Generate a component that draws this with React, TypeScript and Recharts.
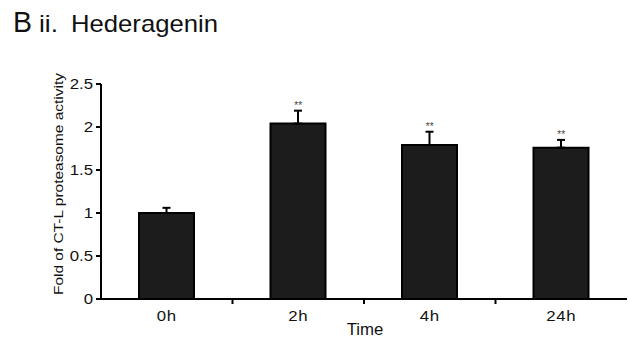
import React from 'react';
import { ComposedChart, Bar, Line, XAxis, YAxis, ErrorBar } from 'recharts';

const categories = ['0h', '2h', '4h', '24h'];
const means = [1.0, 2.04, 1.79, 1.76];
const sems = [0.06, 0.15, 0.155, 0.09];
const significance = ['', '**', '**', '**'];
const yTicks = [0, 0.5, 1, 1.5, 2, 2.5];

const data = categories.map((c, i) => ({
  name: c,
  value: means[i],
  err: [0, sems[i]],
  top: means[i] + sems[i],
  sig: significance[i],
}));

const FONT = '"Liberation Sans", Arial, sans-serif';
const TXT = '#111';
const SX = 1.2;

const XTick = (props: any) => {
  const { x, y, payload, index } = props;
  const off = payload && payload.offset != null ? payload.offset : 0;
  return (
    <g>
      <text
        transform={`translate(${x},${y + 22}) scale(${SX},1)`}
        textAnchor="middle"
        fontSize={14}
        letterSpacing={0.6}
        fill={TXT}
        fontFamily={FONT}
      >
        {payload.value}
      </text>
      {index < categories.length - 1 && (
        <line x1={x + off} x2={x + off} y1={y} y2={y + 5} stroke="#000" strokeWidth={2} />
      )}
    </g>
  );
};

const YTick = (props: any) => {
  const { x, y, payload } = props;
  return (
    <text
      transform={`translate(${x},${y + 5}) scale(${SX},1)`}
      textAnchor="end"
      fontSize={14}
      fill={TXT}
      fontFamily={FONT}
    >
      {payload.value}
    </text>
  );
};

const renderSig = (p: any) => (
  <text key={`sig-${p.index}`} x={p.cx} y={p.cy - 2} textAnchor="middle" fontSize={10} fill="#444" fontFamily={FONT}>
    {p.payload.sig}
  </text>
);

export default function App() {
  return (
    <div style={{ position: 'absolute', left: 0, top: 0, width: 628, height: 349, background: '#fff' }}>
      <ComposedChart width={628} height={349} data={data} margin={{ top: 84, right: 1, bottom: 20, left: 41 }}>
        <XAxis
          dataKey="name"
          height={30}
          tickSize={0}
          tickMargin={0}
          tickLine={false}
          interval={0}
          axisLine={{ stroke: '#000', strokeWidth: 2 }}
          tick={<XTick />}
        />
        <YAxis
          width={60}
          domain={[0, 2.5]}
          ticks={yTicks}
          interval={0}
          tickSize={5}
          tickMargin={3}
          axisLine={{ stroke: '#000', strokeWidth: 2 }}
          tickLine={{ stroke: '#000', strokeWidth: 2 }}
          tick={<YTick />}
        />
        <Bar dataKey="value" barSize={55} fill="#1c1c1c" stroke="#000" strokeWidth={2} isAnimationActive={false}>
          <ErrorBar dataKey="err" width={4} stroke="#000" strokeWidth={2} direction="y" />
        </Bar>
        <Line dataKey="top" stroke="none" isAnimationActive={false} dot={renderSig} activeDot={false} legendType="none" />
      </ComposedChart>
      <svg width={628} height={349} style={{ position: 'absolute', left: 0, top: 0, pointerEvents: 'none' }}>
        <text x={13} y={32} fontSize={29} fill={TXT} fontFamily={FONT} textLength={19} lengthAdjust="spacingAndGlyphs">
          B
        </text>
        <text x={39} y={32} fontSize={24} fill={TXT} fontFamily={FONT} textLength={19} lengthAdjust="spacingAndGlyphs">
          ii.
        </text>
        <text x={71} y={32} fontSize={24} fill={TXT} fontFamily={FONT} textLength={147} lengthAdjust="spacingAndGlyphs">
          Hederagenin
        </text>
        <text
          x={63}
          y={184}
          textAnchor="middle"
          fontSize={13.5}
          fill={TXT}
          fontFamily={FONT}
          textLength={222}
          lengthAdjust="spacingAndGlyphs"
          transform="rotate(-90, 63, 184)"
        >
          Fold of CT-L proteasome activity
        </text>
        <text
          transform="translate(365,335) scale(1.05,1)"
          textAnchor="middle"
          fontSize={16}
          fill={TXT}
          fontFamily={FONT}
        >
          Time
        </text>
      </svg>
    </div>
  );
}
